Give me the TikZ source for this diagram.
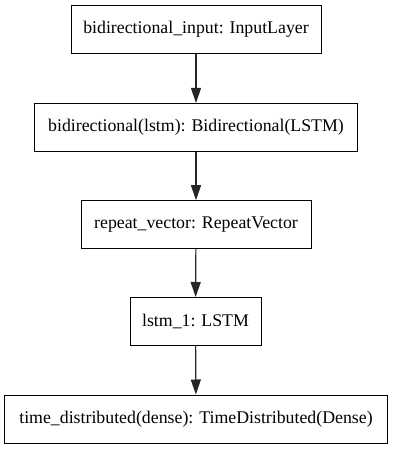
\documentclass[tikz,border=0pt]{standalone}
\usepackage{fontspec}
\setmainfont{Liberation Serif}
\usetikzlibrary{arrows.meta}
\begin{document}
\begin{tikzpicture}[x=1bp,y=-1bp,
  layer/.style={draw=black, line width=1bp, fill=white, inner sep=0pt,
    minimum height=48bp, font=\fontsize{17.8bp}{21bp}\selectfont},
  flow/.style={draw=black!85, line width=1.2bp,
    -{Triangle[length=15bp,width=10bp]}}]
  \useasboundingbox (0,0) rectangle (392,449);
  \node[layer, minimum width=250bp] (input) at (196,29.5) {bidirectional\_input: InputLayer};
  \node[layer, minimum width=322bp] (bidir) at (196,127.5) {bidirectional(lstm): Bidirectional(LSTM)};
  \node[layer, minimum width=230bp] (rep) at (196,224.7) {repeat\_vector: RepeatVector};
  \node[layer, minimum width=131bp] (lstm) at (195.5,321.5) {lstm\_1: LSTM};
  \node[layer, minimum width=382bp] (dist) at (196,419) {time\_distributed(dense): TimeDistributed(Dense)};
  \draw[flow] (input) -- (bidir);
  \draw[flow] (bidir) -- (rep);
  \draw[flow] (rep) -- (lstm);
  \draw[flow] (lstm) -- (dist);
\end{tikzpicture}
\end{document}
